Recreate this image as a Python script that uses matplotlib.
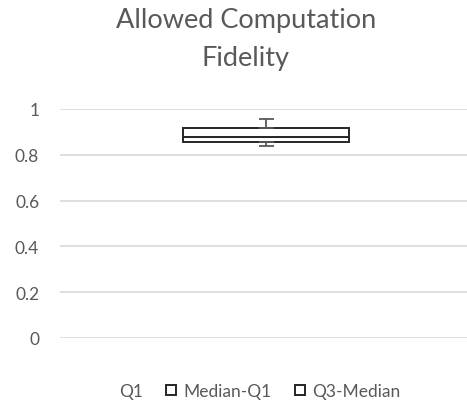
import matplotlib.pyplot as plt

plt.rcParams["font.family"] = ["Lato", "DejaVu Sans"]

# box plot built as a stacked bar
categories = [""]
q1 = [0.856]
median_q1 = [0.022]
q3_median = [0.039]
whisker_low = [0.018]
whisker_high = [0.039]
yticks = [0, 0.2, 0.4, 0.6, 0.8, 1]
yticklabels = ["0", "0.2", "0.4", "0.6", "0.8", "1"]

text_col = "#595959"
edge_col = "#262626"

fig = plt.figure(figsize=(4.67, 4.06), dpi=100)
ax = fig.add_axes([60 / 467, 67 / 406, 407 / 467, 229 / 406])

x = [0]
ax.bar(x, q1, width=1.0, color="none", edgecolor="none", label="Q1")
ax.errorbar(x, q1, yerr=[whisker_low, [0]], fmt="none", ecolor=text_col,
            elinewidth=1.3, capsize=5.4, capthick=1.3)
bottom2 = [a + b for a, b in zip(q1, median_q1)]
ax.bar(x, median_q1, bottom=q1, width=1.0, color="white", edgecolor=edge_col,
       linewidth=1.4, label="Median-Q1")
ax.bar(x, q3_median, bottom=bottom2, width=1.0, color="white", edgecolor=edge_col,
       linewidth=1.4, label="Q3-Median")
top = [a + b for a, b in zip(bottom2, q3_median)]
ax.errorbar(x, top, yerr=[[0], whisker_high], fmt="none", ecolor=text_col,
            elinewidth=1.3, capsize=5.4, capthick=1.3)

ax.set_xlim(-1.241, 1.211)
ax.set_ylim(0, 1)
ax.set_yticks(yticks)
ax.set_yticklabels(yticklabels)
ax.set_xticks([])
ax.tick_params(axis="y", length=0, pad=15, labelsize=12.5, labelcolor=text_col)
ax.grid(axis="y", color="#d9d9d9", linewidth=1.2)
ax.set_axisbelow(True)
for s in ax.spines.values():
    s.set_visible(False)

# two-line title
fig.text(246 / 467, 1 - 28 / 406, "Allowed Computation", ha="center", va="baseline",
         fontsize=19.5, color=text_col)
fig.text(246 / 467, 1 - 66 / 406, "Fidelity", ha="center", va="baseline",
         fontsize=19.5, color=text_col)

handles, labels = ax.get_legend_handles_labels()
fig.legend(handles, labels, loc="center", bbox_to_anchor=(251 / 467, 1 - 392 / 406), ncol=3,
           frameon=False, fontsize=12.5, labelcolor=text_col, handlelength=0.55,
           handleheight=0.55, handletextpad=0.45, columnspacing=1.35)

fig.savefig("out.png", dpi=100, facecolor="white")
